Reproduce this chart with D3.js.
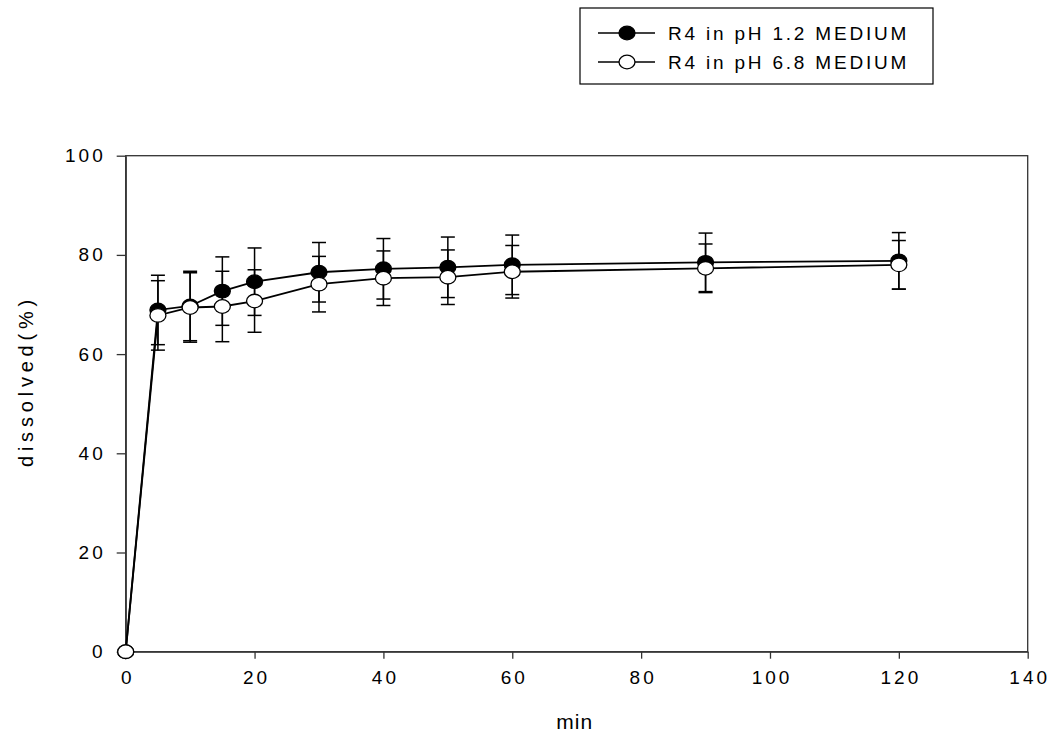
<!DOCTYPE html>
<html>
<head>
<meta charset="utf-8">
<script src="https://cdn.jsdelivr.net/npm/d3@7"></script>
<style>
  body { margin: 0; background: #fff; }
  svg text { font-family: "Liberation Sans", Arial, sans-serif; fill: #000; }
</style>
</head>
<body>
<svg id="chart" width="1052" height="737"></svg>
<script>
const times = [0, 5, 10, 15, 20, 30, 40, 50, 60, 90, 120]
const ph12 = [0, 68.9, 69.7, 72.7, 74.6, 76.5, 77.2, 77.5, 78.0, 78.5, 78.8]
const ph12Sd = [0, 7.0, 7.0, 6.9, 6.8, 6.0, 6.1, 6.1, 6.0, 5.9, 5.7]
const ph68 = [0, 67.8, 69.4, 69.6, 70.7, 74.1, 75.3, 75.5, 76.6, 77.3, 78.0]
const ph68Sd = [0, 7.0, 7.0, 7.1, 6.3, 5.6, 5.5, 5.5, 5.3, 4.9, 4.9]
const xTicks = [0, 20, 40, 60, 80, 100, 120, 140]
const yTicks = [0, 20, 40, 60, 80, 100]
const seriesNames = ['R4 in pH 1.2 MEDIUM', 'R4 in pH 6.8 MEDIUM']

const series = [
  {name: seriesNames[0], values: ph12, sd: ph12Sd, fill: '#000'},
  {name: seriesNames[1], values: ph68, sd: ph68Sd, fill: '#fff'}
]

const svg = d3.select('#chart')
const margin = {left: 125.7, right: 1052 - 1027.7, top: 155.7, bottom: 737 - 651.7}
const W = 1052 - margin.left - margin.right
const H = 737 - margin.top - margin.bottom

const x = d3.scaleLinear().domain([0, 140]).range([0, W])
const y = d3.scaleLinear().domain([0, 100]).range([H, 0])

const g = svg.append('g').attr('transform', `translate(${margin.left},${margin.top})`)

// frame
g.append('rect')
  .attr('width', W).attr('height', H)
  .attr('fill', 'none').attr('stroke', '#333').attr('stroke-width', 1.3)

const xAxis = g.append('g')
  .attr('transform', `translate(0,${H})`)
  .call(d3.axisBottom(x).tickValues(xTicks).tickSizeInner(7).tickSizeOuter(0).tickPadding(12))
const yAxis = g.append('g')
  .call(d3.axisLeft(y).tickValues(yTicks).tickSizeInner(9).tickSizeOuter(0).tickPadding(14))

;[xAxis, yAxis].forEach(a => {
  a.select('.domain').attr('stroke', '#333').attr('stroke-width', 1.3)
  a.selectAll('.tick line').attr('stroke', '#333').attr('stroke-width', 1.3)
  a.selectAll('.tick text')
    .style('font-size', '19px')
    .style('letter-spacing', '3px')
    .attr('font-family', null)
})
yAxis.selectAll('.tick text').attr('dx', '3px')
xAxis.selectAll('.tick text').attr('dx', '1.5px')

const line = d3.line()
  .x((d, i) => x(times[i]))
  .y(d => y(d))

series.forEach(s => {
  let eb = g.append('g').attr('stroke', '#000').attr('stroke-width', 1.5)
  times.forEach((t, i) => {
    if (!s.sd[i]) return
    let cx = x(t), lo = y(s.values[i] - s.sd[i]), hi = y(s.values[i] + s.sd[i])
    eb.append('line').attr('x1', cx).attr('x2', cx).attr('y1', lo).attr('y2', hi)
    eb.append('line').attr('x1', cx - 7).attr('x2', cx + 7).attr('y1', lo).attr('y2', lo)
    eb.append('line').attr('x1', cx - 7).attr('x2', cx + 7).attr('y1', hi).attr('y2', hi)
  })

  g.append('path')
    .datum(s.values)
    .attr('d', line)
    .attr('fill', 'none')
    .attr('stroke', '#000')
    .attr('stroke-width', 1.8)

  g.selectAll(null)
    .data(s.values)
    .enter().append('ellipse')
    .attr('cx', (d, i) => x(times[i]))
    .attr('cy', d => y(d))
    .attr('rx', 8).attr('ry', 6.8)
    .attr('fill', s.fill)
    .attr('stroke', '#000')
    .attr('stroke-width', 1.3)
})

svg.append('text')
  .attr('x', margin.left + W / 2 - 2)
  .attr('y', 729)
  .attr('text-anchor', 'middle')
  .style('font-size', '21px')
  .style('letter-spacing', '1px')
  .text('min')

svg.append('text')
  .attr('transform', 'translate(33,381) rotate(-90)')
  .attr('text-anchor', 'middle')
  .style('font-size', '20px')
  .style('letter-spacing', '4.8px')
  .text('dissolved(%)')

// legend
const legend = svg.append('g')
legend.append('rect')
  .attr('x', 580).attr('y', 8).attr('width', 353).attr('height', 76)
  .attr('fill', '#fff').attr('stroke', '#000').attr('stroke-width', 1.2)

const rows = legend.selectAll('g.row')
  .data(series)
  .enter().append('g')
  .attr('class', 'row')
  .attr('transform', (d, i) => `translate(0,${33 + i * 29})`)

rows.append('line')
  .attr('x1', 598).attr('x2', 655)
  .attr('stroke', '#000').attr('stroke-width', 1.5)
rows.append('ellipse')
  .attr('cx', 627).attr('rx', 8).attr('ry', 6.8)
  .attr('fill', d => d.fill).attr('stroke', '#000').attr('stroke-width', 1.3)
rows.append('text')
  .attr('x', 668).attr('y', 7)
  .style('font-size', '19px')
  .style('letter-spacing', '2.8px')
  .text(d => d.name)
</script>
</body>
</html>
